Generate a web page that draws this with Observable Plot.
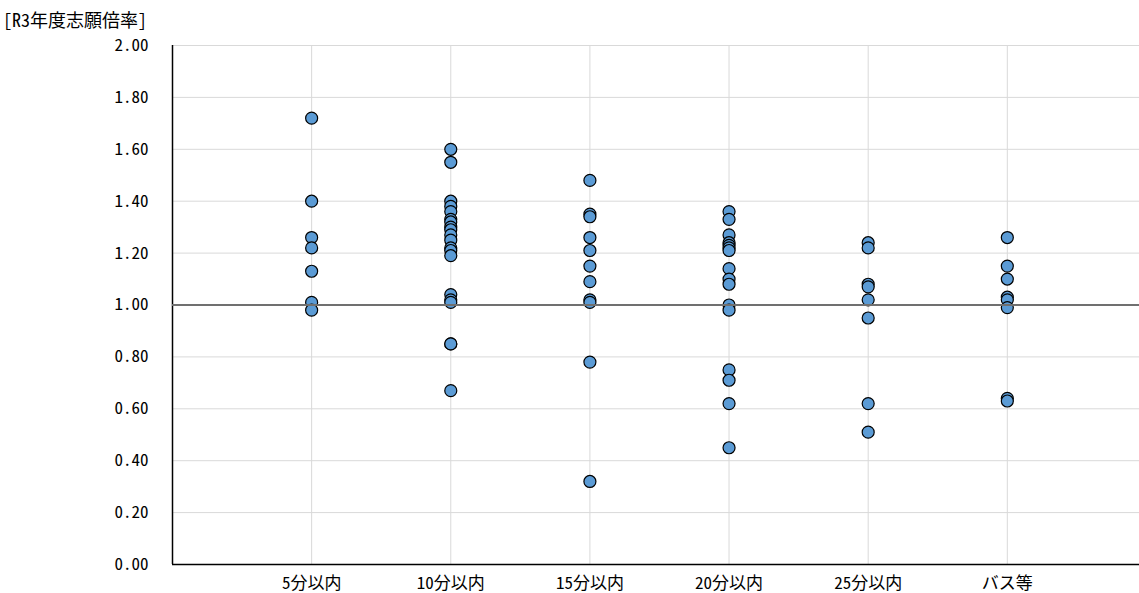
<!DOCTYPE html>
<html>
<head>
<meta charset="utf-8">
<script src="https://cdn.jsdelivr.net/npm/d3@7"></script>
<script src="https://cdn.jsdelivr.net/npm/@observablehq/plot@0.6"></script>
<style>
  html, body { margin: 0; padding: 0; background: #fff; }
  #title { height: 30px; box-sizing: border-box; padding: 8px 0 0 3px; font: 18px "Noto Sans Mono CJK JP", "Noto Sans CJK JP", sans-serif; line-height: 22px; color: #000; }
  svg { display: block; }
</style>
</head>
<body>
<div id="title">[R3年度志願倍率]</div>
<div id="chart"></div>
<script>
const categories = ["5分以内", "10分以内", "15分以内", "20分以内", "25分以内", "バス等"];
const v5 = [1.72, 1.40, 1.26, 1.22, 1.13, 1.01, 0.98];
const v10 = [1.60, 1.55, 1.40, 1.38, 1.36, 1.33, 1.32, 1.30, 1.29, 1.27, 1.25, 1.22, 1.21, 1.19, 1.04, 1.02, 1.01, 0.85, 0.85, 0.67];
const v15 = [1.48, 1.35, 1.34, 1.26, 1.21, 1.15, 1.09, 1.02, 1.01, 0.78, 0.32];
const v20 = [1.36, 1.33, 1.27, 1.24, 1.23, 1.22, 1.21, 1.14, 1.10, 1.08, 1.00, 0.98, 0.75, 0.71, 0.62, 0.45];
const v25 = [1.24, 1.22, 1.08, 1.07, 1.02, 0.95, 0.62, 0.51];
const vBus = [1.26, 1.15, 1.10, 1.03, 1.02, 0.99, 0.64, 0.63];
const yTicks = [0, 0.2, 0.4, 0.6, 0.8, 1.0, 1.2, 1.4, 1.6, 1.8, 2.0];

const series = [v5, v10, v15, v20, v25, vBus];
const data = series.flatMap((vals, i) => vals.map(v => ({cat: i + 1, value: v})));
const catIdx = categories.map((c, i) => i + 1);

const font = '"Noto Sans Mono CJK JP", "Noto Sans CJK JP", sans-serif';

const chart = Plot.plot({
  width: 1139,
  height: 563,
  marginLeft: 172,
  marginRight: 0,
  marginTop: 15,
  marginBottom: 29,
  style: {fontFamily: font, fontSize: "17px", color: "#000", background: "#fff", overflow: "visible"},
  x: {type: "linear", domain: [0, 6.95]},
  y: {domain: [0, 2]},
  marks: [
    Plot.gridY(yTicks.filter(t => t !== 0 && t !== 1), {stroke: "#d9d9d9", strokeOpacity: 1, strokeWidth: 1}),
    Plot.gridX(catIdx, {stroke: "#d9d9d9", strokeOpacity: 1, strokeWidth: 1}),
    Plot.axisY(yTicks, {tickSize: 0, tickPadding: 24, tickFormat: d3.format(".2f"), label: null, fontSize: 17}),
    Plot.axisX(catIdx, {tickSize: 0, tickPadding: 12, tickFormat: i => categories[i - 1], label: null, fontSize: 17}),
    Plot.ruleX([0], {stroke: "#000", strokeWidth: 1.5}),
    Plot.ruleY([0], {stroke: "#000", strokeWidth: 1.5}),
    Plot.dot(data, {x: "cat", y: "value", r: 6, fill: "#5B9BD5", stroke: "#000", strokeWidth: 1.2}),
    Plot.ruleY([1], {stroke: "#707070", strokeWidth: 2})
  ]
});
document.getElementById("chart").appendChild(chart);
</script>
</body>
</html>
